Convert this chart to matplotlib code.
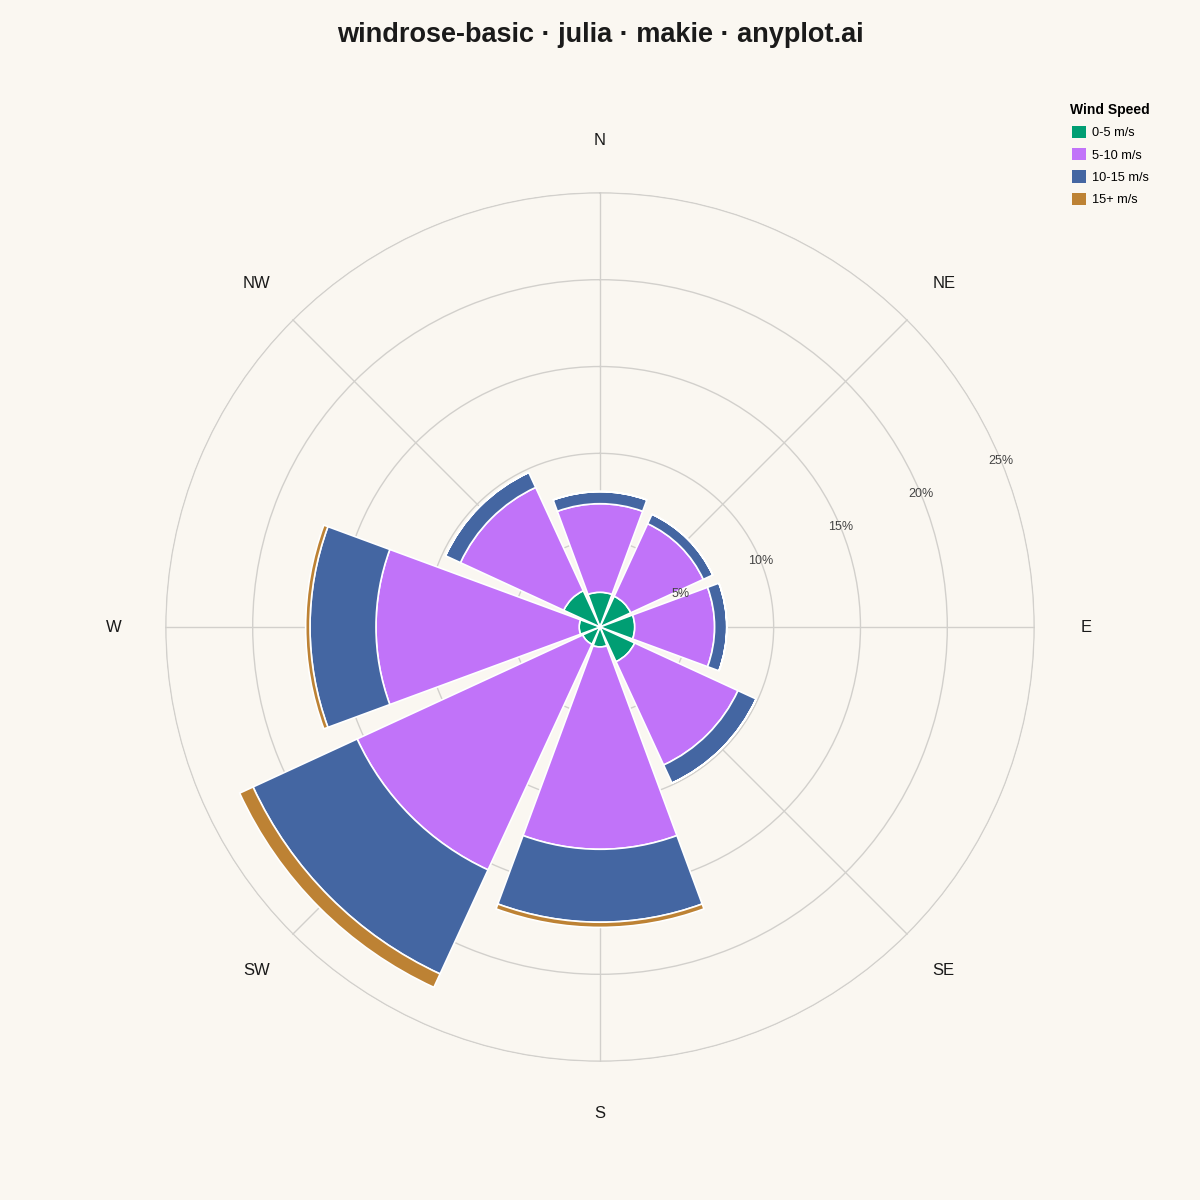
import numpy as np
import matplotlib
matplotlib.use("Agg")
import matplotlib.pyplot as plt
from matplotlib.patches import Patch

plt.rcParams['font.family'] = ['Liberation Sans', 'DejaVu Sans']

# data: frequency (%) per direction and speed class
directions = ["N", "NE", "E", "SE", "S", "SW", "W", "NW"]
speed_labels = ["0-5 m/s", "5-10 m/s", "10-15 m/s", "15+ m/s"]
speed_0_5 = [2.0, 1.95, 2.0, 2.2, 1.15, 1.1, 1.2, 2.3]
speed_5_10 = [5.1, 4.6, 4.6, 6.55, 11.65, 14.3, 11.7, 6.55]
speed_10_15 = [0.7, 0.6, 0.7, 1.15, 4.2, 6.6, 3.8, 0.95]
speed_15_plus = [0.0, 0.0, 0.0, 0.0, 0.3, 0.85, 0.25, 0.0]
r_ticks = [5, 10, 15, 20, 25]

colors = ["#009E73", "#C173F9", "#4466A2", "#BD8234"]
bg = "#FAF7F1"

fig = plt.figure(figsize=(12, 12), dpi=100, facecolor=bg)
ax = fig.add_axes([0.1375, 0.115, 0.725, 0.725], projection="polar")
ax.set_facecolor(bg)
ax.set_theta_zero_location("N")
ax.set_theta_direction(-1)

theta = np.deg2rad(np.arange(len(directions)) * 360 / len(directions))
width = 2 * np.pi / len(directions) * 0.9

bottom = np.zeros(len(directions))
for vals, col in zip([speed_0_5, speed_5_10, speed_10_15, speed_15_plus], colors):
    vals = np.array(vals)
    ax.bar(theta, vals, width=width, bottom=bottom, color=col,
           edgecolor="white", linewidth=1.2, zorder=2)
    bottom = bottom + vals

ax.set_ylim(0, 25.05)
ax.set_yticks(r_ticks)
ax.set_yticklabels([])
ax.set_xticks(theta)
ax.set_xticklabels([])
ax.grid(True, color="#d2d0cc", linewidth=1.0)
ax.set_axisbelow(True)
ax.spines["polar"].set_visible(False)

# radial labels sit on their rings
for t in r_ticks:
    ax.text(np.deg2rad(67.5), t, f"{t}%", ha="center", va="center",
            fontsize=9, color="#444444", zorder=3)

for t, d in zip(theta, directions):
    ax.text(t, 28, d, ha="center", va="center", fontsize=12, color="#1a1a1a",
            clip_on=False)

fig.suptitle("windrose-basic · julia · makie · anyplot.ai", fontsize=19.5,
             fontweight="bold", color="#1a1a1a", y=0.982)

handles = [Patch(facecolor=c, edgecolor="none") for c in colors]
leg = fig.legend(handles, speed_labels, title="Wind Speed", loc="upper right",
                 bbox_to_anchor=(0.968, 0.924), frameon=False, fontsize=9.2,
                 title_fontproperties={"weight": "bold", "size": 10},
                 handlelength=1.1, handleheight=1.1, handletextpad=0.5,
                 labelspacing=0.7)

fig.savefig("out.png", dpi=100, facecolor=bg)
